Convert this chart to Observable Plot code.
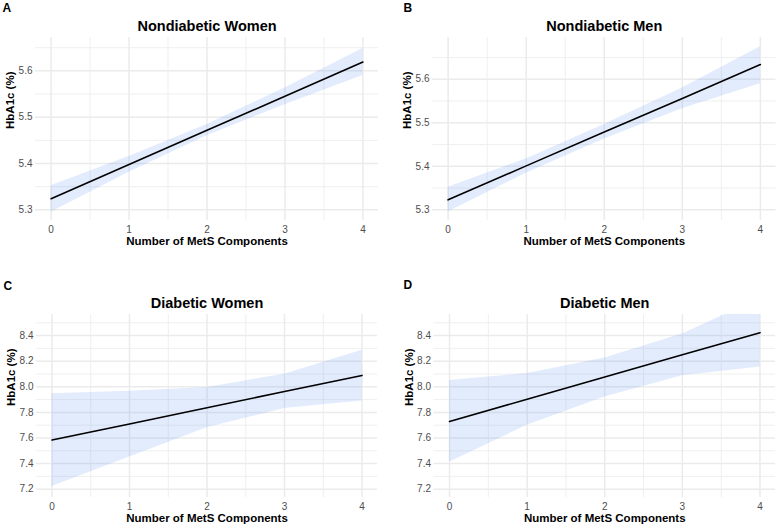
<!DOCTYPE html>
<html>
<head>
<meta charset="utf-8">
<script src="https://cdn.jsdelivr.net/npm/d3@7"></script>
<script src="https://cdn.jsdelivr.net/npm/@observablehq/plot@0.6"></script>
<style>
  body { margin: 0; background: #fff; }
  #chart { position: relative; width: 777px; height: 524px; overflow: hidden; background: #fff; }
  #chart svg { position: absolute; }
</style>
</head>
<body>
<div id="chart"></div>
<script>
// ---- Data ----
const components = [0, 1, 2, 3, 4];
const xMinor = [0.5, 1.5, 2.5, 3.5];

const panelLetters = ["A", "B", "C", "D"];
const panelTitles = ["Nondiabetic Women", "Nondiabetic Men", "Diabetic Women", "Diabetic Men"];
const xLabel = "Number of MetS Components";
const yLabel = "HbA1c (%)";

const yTicksNondiabetic = [5.3, 5.4, 5.5, 5.6];
const yMinorNondiabetic = [5.35, 5.45, 5.55, 5.65];
const yTicksDiabetic = [7.2, 7.4, 7.6, 7.8, 8.0, 8.2, 8.4];
const yMinorDiabetic = [7.3, 7.5, 7.7, 7.9, 8.1, 8.3, 8.5];

// Nondiabetic women
const ndWomenFit   = [5.324, 5.398, 5.472, 5.545, 5.619];
const ndWomenLower = [5.295, 5.381, 5.460, 5.527, 5.590];
const ndWomenUpper = [5.352, 5.415, 5.484, 5.563, 5.648];
// Nondiabetic men
const ndMenFit   = [5.323, 5.401, 5.479, 5.556, 5.634];
const ndMenLower = [5.295, 5.384, 5.463, 5.532, 5.590];
const ndMenUpper = [5.352, 5.417, 5.496, 5.580, 5.675];
// Diabetic women
const dWomenFit   = [7.584, 7.710, 7.837, 7.963, 8.089];
const dWomenLower = [7.220, 7.452, 7.680, 7.830, 7.890];
const dWomenUpper = [7.946, 7.966, 7.995, 8.098, 8.285];
// Diabetic men
const dMenFit   = [7.729, 7.903, 8.076, 8.250, 8.423];
const dMenLower = [7.410, 7.700, 7.920, 8.087, 8.155];
const dMenUpper = [8.050, 8.104, 8.225, 8.412, 8.690];

// ---- Drawing ----
const FONT = "Liberation Sans, Arial, Helvetica, sans-serif";
const GRID = "#ebebeb";
const fmt1 = d3.format(".1f");

function rows(fit, lower, upper) {
  return components.map((x, i) => ({x, fit: fit[i], lo: lower[i], hi: upper[i]}));
}

function panel(cfg) {
  const data = rows(cfg.fit, cfg.lower, cfg.upper);
  const svg = Plot.plot({
    width: cfg.width,
    height: cfg.height,
    marginLeft: cfg.ml,
    marginRight: cfg.mr,
    marginTop: cfg.mt,
    marginBottom: cfg.mb,
    x: {domain: [-0.2, 4.2]},
    y: {domain: cfg.yDomain},
    style: {fontFamily: FONT, fontSize: "10px", color: "#4d4d4d", background: "transparent", overflow: "visible"},
    marks: [
      Plot.ruleX(xMinor, {stroke: GRID, strokeWidth: 0.8}),
      Plot.ruleY(cfg.yMinor, {stroke: GRID, strokeWidth: 0.8}),
      Plot.ruleX(components, {stroke: GRID, strokeWidth: 1.5}),
      Plot.ruleY(cfg.yTicks, {stroke: GRID, strokeWidth: 1.5}),
      Plot.areaY(data, {x: "x", y1: "lo", y2: "hi", fill: "#6495ED", fillOpacity: 0.18, clip: true}),
      Plot.lineY(data, {x: "x", y: "fit", stroke: "#000", strokeWidth: 1.6, clip: true}),
      Plot.axisX(components, {tickSize: 0, tickPadding: 5, label: null, tickFormat: d => String(d)}),
      Plot.axisY(cfg.yTicks, {tickSize: 0, tickPadding: 3, label: null, tickFormat: fmt1}),
      Plot.text([cfg.title], {text: d => d, frameAnchor: "top", lineAnchor: "bottom", dy: -6.5,
        fontSize: 14.5, fontWeight: "bold", fill: "#000"}),
      Plot.text([cfg.letter], {text: d => d, frameAnchor: "top-left", textAnchor: "start", lineAnchor: "bottom",
        dx: cfg.letterDx, dy: cfg.letterDy, fontSize: 12, fontWeight: "bold", fill: "#000"}),
      Plot.text([xLabel], {text: d => d, frameAnchor: "bottom", lineAnchor: "bottom", dy: 24.6,
        fontSize: 11.5, fontWeight: "bold", fill: "#000"}),
      Plot.text([yLabel], {text: d => d, frameAnchor: "left", rotate: -90, dx: -25,
        fontSize: 11.5, fontWeight: "bold", fill: "#000"})
    ]
  });
  svg.style.left = cfg.left + "px";
  svg.style.top = cfg.top + "px";
  document.getElementById("chart").appendChild(svg);
}

panel({letter: panelLetters[0], title: panelTitles[0], fit: ndWomenFit, lower: ndWomenLower, upper: ndWomenUpper,
  yDomain: [5.277, 5.672], yTicks: yTicksNondiabetic, yMinor: yMinorNondiabetic,
  left: 0, top: 0, width: 390, height: 260, ml: 35, mr: 12, mt: 37, mb: 40, letterDx: -33, letterDy: -25.5});

panel({letter: panelLetters[1], title: panelTitles[1], fit: ndMenFit, lower: ndMenLower, upper: ndMenUpper,
  yDomain: [5.2755, 5.696], yTicks: yTicksNondiabetic, yMinor: yMinorNondiabetic,
  left: 390, top: 0, width: 387, height: 260, ml: 42, mr: 1.5, mt: 37, mb: 40, letterDx: -29, letterDy: -25.5});

panel({letter: panelLetters[2], title: panelTitles[2], fit: dWomenFit, lower: dWomenLower, upper: dWomenUpper,
  yDomain: [7.135, 8.565], yTicks: yTicksDiabetic, yMinor: yMinorDiabetic,
  left: 0, top: 260, width: 390, height: 264, ml: 36, mr: 13, mt: 54, mb: 27, letterDx: -33, letterDy: -25});

panel({letter: panelLetters[3], title: panelTitles[3], fit: dMenFit, lower: dMenLower, upper: dMenUpper,
  yDomain: [7.135, 8.565], yTicks: yTicksDiabetic, yMinor: yMinorDiabetic,
  left: 390, top: 260, width: 387, height: 264, ml: 43.5, mr: 2, mt: 54, mb: 27, letterDx: -30.5, letterDy: -26});
</script>
</body>
</html>
